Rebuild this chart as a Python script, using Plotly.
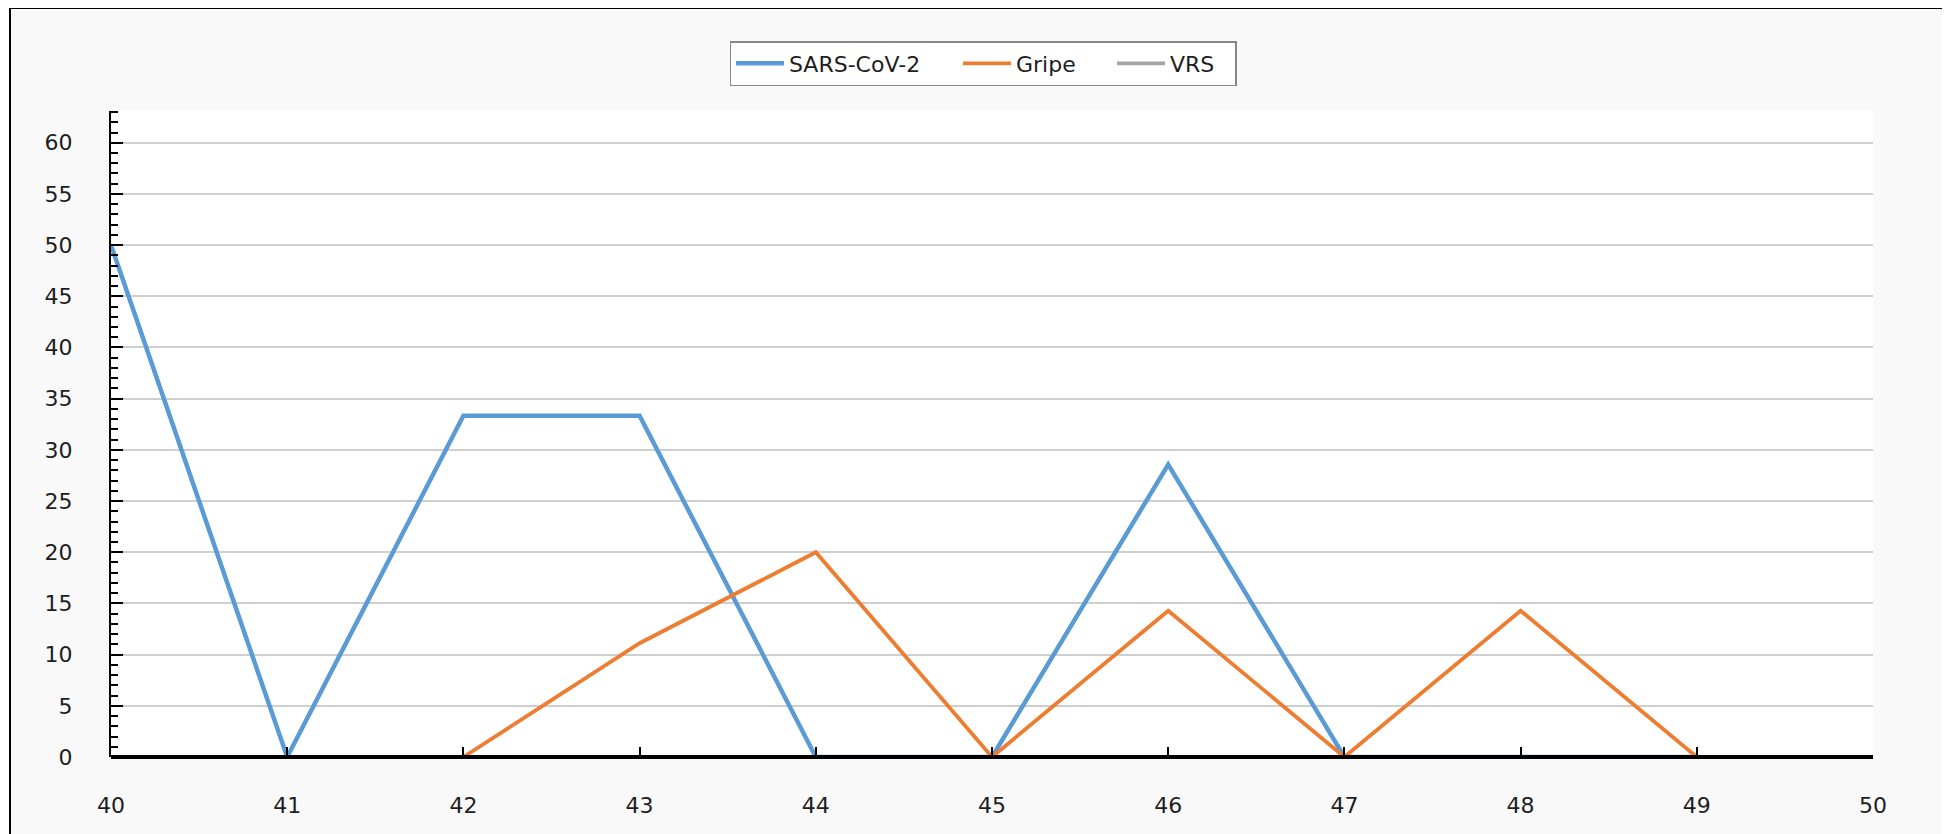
import plotly.graph_objects as go

# ---- data ----
weeks = [40, 41, 42, 43, 44, 45, 46, 47, 48, 49, 50]
sars_cov_2 = [50, 0, 33.33, 33.33, 0, 0, 28.57, 0, 0, 0, None]
gripe = [None, None, 0, 11.11, 20, 0, 14.29, 0, 14.29, 0, None]
vrs = [0, 0, 0, 0, 0, 0, 0, 0, 0, 0, None]
y_ticks = [0, 5, 10, 15, 20, 25, 30, 35, 40, 45, 50, 55, 60]

# page geometry (the page body adds an 8px margin)
W, H = 1942, 826
L, R, T, B = 103, 77, 103, 77
OFF = 8
PX_L, PX_B = L + OFF, H - B + OFF
PW, PH = W - L - R, H - T - B


def xp(px):
    return (px - PX_L) / PW


def yp(py):
    return (PX_B - py) / PH


FONT = "DejaVu Sans"
TXT = "#1e1e1e"

fig = go.Figure()
fig.add_trace(go.Scatter(x=weeks, y=vrs, name="VRS", mode="lines",
                         line=dict(color="#a5a5a5", width=3.8), legendwidth=60,
                         legendrank=3))
fig.add_trace(go.Scatter(x=weeks, y=sars_cov_2, name="SARS-CoV-2", mode="lines",
                         line=dict(color="#5b9bd5", width=4.5), legendwidth=164,
                         legendrank=1))
fig.add_trace(go.Scatter(x=weeks, y=gripe, name="Gripe", mode="lines",
                         line=dict(color="#ed7d31", width=3.8), legendwidth=91,
                         legendrank=2))

shapes = [
    # outer frame (gray panel with black border)
    dict(type="rect", xref="paper", yref="paper", layer="below",
         x0=xp(10), x1=xp(2100), y0=yp(1000), y1=yp(8),
         fillcolor="#f9f9f9", line=dict(color="black", width=2)),
    # white plot area
    dict(type="rect", xref="paper", yref="paper", layer="below",
         x0=0, x1=1, y0=0, y1=1, fillcolor="white", line=dict(width=0)),
    # domain axis line drawn over the series (as in the source chart)
    dict(type="line", xref="paper", yref="paper", layer="above",
         x0=0, x1=1, y0=0, y1=0, line=dict(color="black", width=4)),
]

fig.update_layout(
    width=W, height=H,
    margin=dict(l=L, r=R, t=T, b=B, pad=0),
    paper_bgcolor="white",
    plot_bgcolor="white",
    font=dict(family=FONT, size=22, color=TXT),
    shapes=shapes,
    showlegend=True,
    legend=dict(orientation="h", x=xp(983), xanchor="center", y=yp(41), yanchor="top",
                bgcolor="white", bordercolor="#888888", borderwidth=1.5,
                font=dict(family=FONT, size=22, color=TXT), itemwidth=48,
                traceorder="normal"),
    xaxis=dict(range=[40, 50], tickmode="array", tickvals=weeks,
               ticktext=[str(w) for w in weeks],
               showgrid=False, zeroline=False,
               showline=False,
               ticks="inside", ticklen=10, tickwidth=2, tickcolor="black",
               ticklabelstandoff=33,
               tickfont=dict(family=FONT, size=22, color=TXT)),
    yaxis=dict(range=[0, 63.1], tickmode="array", tickvals=y_ticks,
               ticktext=[str(v) for v in y_ticks],
               showgrid=True, gridcolor="#cfcfcf", gridwidth=1.5,
               zeroline=False,
               showline=True, linecolor="black", linewidth=2,
               ticks="inside", ticklen=12, tickwidth=2, tickcolor="black",
               minor=dict(dtick=1, tick0=0, ticks="inside", ticklen=7,
                          tickwidth=2, tickcolor="black", showgrid=False),
               ticklabelstandoff=32,
               tickfont=dict(family=FONT, size=22, color=TXT)),
)

fig.write_html("out.html")
